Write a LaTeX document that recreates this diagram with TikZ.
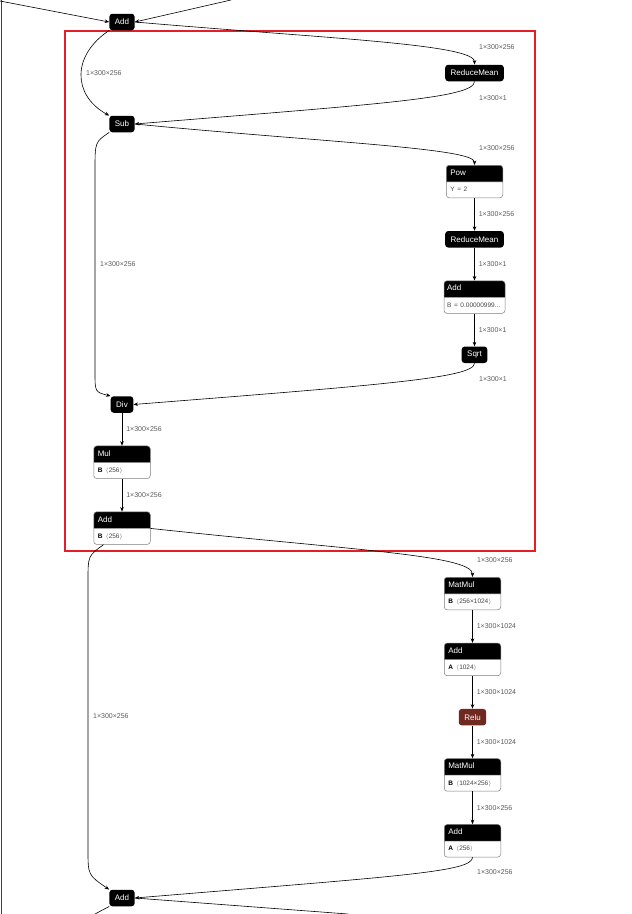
\documentclass[tikz,border=0pt]{standalone}
\usepackage{fontspec}
\setmainfont{Liberation Sans}
\usepackage{tikz}
\usetikzlibrary{
	positioning,
	arrows.meta,
	shapes.multipart
}
\definecolor{EdgeGray}{RGB}{90,90,90}
\definecolor{BoxGray}{RGB}{125,125,125}
\definecolor{AttrGray}{RGB}{70,70,70}
\definecolor{ReluBrown}{RGB}{112,41,33}
\definecolor{FocusRed}{RGB}{228,30,38}
\newcommand{\attrtext}{\fontsize{6.5}{9}\selectfont\color{AttrGray}\strut}

\begin{document}
\begin{tikzpicture}[
				x=1pt,
				y=-1pt,
				node distance=32.75pt,
				every node/.style={
					font=\fontsize{8}{9.6}\selectfont
				},
				op/.style={
					fill=black,
					text=white,
					rounded corners=3pt,
					minimum height=16.5pt,
					inner xsep=5.5pt,
					inner ysep=0pt
				},
				opbody/.style={
					rectangle split,
					rectangle split parts=2,
					rectangle split part fill={black,white},
					draw=BoxGray,
					line width=0.5pt,
					rounded corners=3pt,
					text width=#1,
					align=left,
					inner xsep=4pt,
					inner ysep=3.25pt,
					anchor=north
				},
				opbody/.default=48.5pt,
				lbl/.style={
					font=\fontsize{7}{8}\selectfont,
					text=EdgeGray,
					inner sep=1pt
				},
				flow/.style={
					-{Stealth[length=4.5pt,width=3.6pt,inset=1.4pt]},
					line width=0.6pt
				}
				]
				
				\useasboundingbox (0,0) rectangle (632,914);
				
				\draw[FocusRed, line width=2.5pt] (65,31) rectangle (535,551);
				
				\coordinate (skipTop) at (1,0);
				\coordinate (skipBot) at (1,914);
				\draw[line width=0.6pt, black!75] (skipTop) -- (skipBot);
				
				\node[op] (addIn) at (122,22) {Add};
				\node[op] (meanA) at (474.5,73) {ReduceMean};
				\node[op] (sub) at (122,124) {Sub};
				
				\node[opbody] (pow) at (474.5,165) {\strut\textcolor{white}{Pow}\nodepart{two}\attrtext Y = 2};
				\node[op, below=of pow] (meanB) {ReduceMean};
				\node[opbody=55pt, inner xsep=3pt, below=of meanB] (addEps) {\strut\textcolor{white}{Add}\nodepart{two}\attrtext\mbox{B = 0.00000999...}};
				\node[op, below=of addEps] (sqrt) {Sqrt};
				
				\node[op] (div) at (122,404.5) {Div};
				\node[opbody, below=of div] (mul) {\strut\textcolor{white}{Mul}\nodepart{two}\attrtext\textbf{\color{black}B}\enspace$\langle$256$\rangle$};
				\node[opbody, below=of mul] (addNorm) {\strut\textcolor{white}{Add}\nodepart{two}\attrtext\textbf{\color{black}B}\enspace$\langle$256$\rangle$};
				
				\node[opbody] (matA) at (472.5,577) {\strut\textcolor{white}{MatMul}\nodepart{two}\attrtext\textbf{\color{black}B}\enspace$\langle$256×1024$\rangle$};
				\node[opbody, below=of matA] (addBias) {\strut\textcolor{white}{Add}\nodepart{two}\attrtext\textbf{\color{black}A}\enspace$\langle$1024$\rangle$};
				\node[op, fill=ReluBrown, below=of addBias] (relu) {Relu};
				\node[opbody, below=of relu] (matB) {\strut\textcolor{white}{MatMul}\nodepart{two}\attrtext\textbf{\color{black}B}\enspace$\langle$1024×256$\rangle$};
				\node[opbody, below=of matB] (addFfn) {\strut\textcolor{white}{Add}\nodepart{two}\attrtext\textbf{\color{black}A}\enspace$\langle$256$\rangle$};
				
				\node[op] (addRes) at (122,898) {Add};
				
				\coordinate (inA) at (0,1);
				\coordinate (inB) at (231,0);
				\coordinate (outA) at (95,914);
				\coordinate (outB) at (348,914);
				
				\draw[flow] (inA) -- (addIn.west);
				\draw[flow] (inB) -- (addIn.east);
				
				\draw[flow] (addIn.east) .. controls (320,38) and (474.5,44) .. (meanA.north);
				\node[lbl, anchor=west] (lInMean) at (478,47) {1×300×256};
				
				\draw[flow] (addIn.south west) .. controls (72,55) and (72,95) .. (sub.north west);
				\node[lbl, anchor=west] (lInSub) at (85,73) {1×300×256};
				
				\draw[flow] (meanA.south) .. controls (474.5,98) and (380,104) .. (sub.east);
				\node[lbl, anchor=west] (lMeanSub) at (478,98) {1×300×1};
				
				\draw[flow] (sub.east) .. controls (320,142) and (474.5,148) .. (pow.north);
				\node[lbl, anchor=west] (lSubPow) at (478,148) {1×300×256};
				
				\draw[flow] (sub.south west) .. controls (95,142) .. (95,170) -- (95,372) .. controls (95,392) .. (div.north west);
				\node[lbl, anchor=west] (lSubDiv) at (99,264) {1×300×256};
				
				\draw[flow] (pow.south) -- (meanB.north) node[lbl, midway, right=3pt] (lPowMean) {1×300×256};
				\draw[flow] (meanB.south) -- (addEps.north) node[lbl, midway, right=3pt] (lMeanEps) {1×300×1};
				\draw[flow] (addEps.south) -- (sqrt.north) node[lbl, midway, right=3pt] (lEpsSqrt) {1×300×1};
				
				\draw[flow] (sqrt.south) .. controls (474.5,378) and (380,385) .. (div.east);
				\node[lbl, anchor=west] (lSqrtDiv) at (478,379) {1×300×1};
				
				\draw[flow] (div.south) -- (mul.north) node[lbl, midway, right=3pt] (lDivMul) {1×300×256};
				\draw[flow] (mul.south) -- (addNorm.north) node[lbl, midway, right=3pt] (lMulNorm) {1×300×256};
				
				\draw[flow] (addNorm.text split east) .. controls (350,550) and (472.5,555) .. (matA.north);
				\node[lbl, anchor=west] (lNormMat) at (476,560) {1×300×256};
				
				\draw[flow] ([xshift=10pt]addNorm.south west) .. controls (88,556) .. (88,580) -- (88,850) .. controls (88,875) .. (addRes.north west);
				\node[lbl, anchor=west] (lNormRes) at (92,716) {1×300×256};
				
				\draw[flow] (matA.south) -- (addBias.north) node[lbl, midway, right=3pt] (lMatBias) {1×300×1024};
				\draw[flow] (addBias.south) -- (relu.north) node[lbl, midway, right=3pt] (lBiasRelu) {1×300×1024};
				\draw[flow] (relu.south) -- (matB.north) node[lbl, midway, right=3pt] (lReluMat) {1×300×1024};
				\draw[flow] (matB.south) -- (addFfn.north) node[lbl, midway, right=3pt] (lMatFfn) {1×300×256};
				
				\draw[flow] (addFfn.south) .. controls (472.5,872) and (400,876) .. (addRes.east);
				\node[lbl, anchor=west] (lFfnRes) at (476,872) {1×300×256};
				
				\draw[line width=0.6pt] (addRes.south west) -- (outA);
				\draw[line width=0.6pt] (addRes.east) -- (outB);
				
			\end{tikzpicture}
\end{document}
